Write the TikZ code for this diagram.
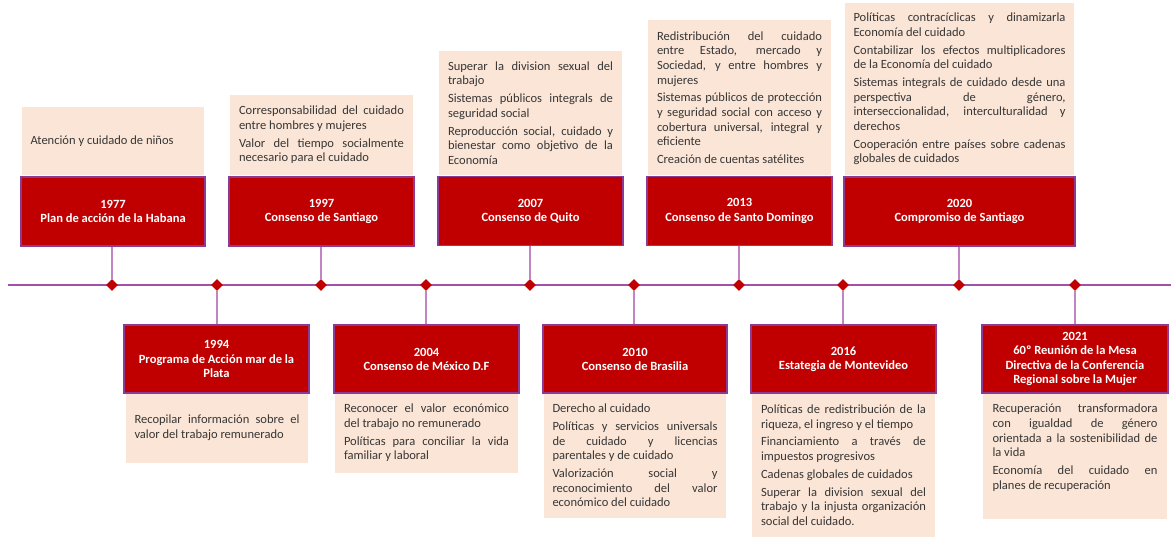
\documentclass[tikz,border=0pt]{standalone}
\usepackage{fontspec}
\setmainfont{Carlito}
\usetikzlibrary{shapes.geometric}
\definecolor{redfill}{HTML}{C00000}
\definecolor{redborder}{HTML}{8B3A96}
\definecolor{lightfill}{HTML}{FBE5D6}
\definecolor{tlcolor}{HTML}{A350A8}
\definecolor{conncolor}{HTML}{C384C6}
\definecolor{txtgray}{HTML}{363636}
\newcommand\bodyfnt{\fontsize{9.4}{10.95}\selectfont\tolerance=10000\hyphenpenalty=10000\exhyphenpenalty=10000}
\newcommand\titlefnt{\fontsize{9.4}{10.6}\selectfont\bfseries}
\newcommand\itemgap{\par\vspace{2.4pt}}
\tikzset{
  lightbox/.style={fill=lightfill, draw=none, inner sep=0pt},
  redbox/.style={fill=redfill, draw=redborder, line width=0.9pt, text=white, font=\titlefnt, align=center, inner sep=0pt, minimum height=51.75pt},
  bodytext/.style={font=\bodyfnt, text=txtgray, align=justify, text width=123.75pt, inner sep=0pt},
  timeline/.style={draw=tlcolor, line width=2.2pt},
  conn/.style={draw=conncolor, line width=1.1pt},
  dmd/.style={shape=diamond, fill=redfill, draw=none, inner sep=0pt, minimum width=9pt, minimum height=9pt}
}
\begin{document}
\begin{tikzpicture}[x=0.75pt, y=-0.75pt]
\useasboundingbox (0,0) rectangle (1171,537);
% ---------- top light boxes ----------
\node[lightbox, minimum width=136.5pt, minimum height=51pt] (l1977) at (113,141) {};
\node[lightbox, minimum width=137.25pt, minimum height=60pt] (l1997) at (321.5,135) {};
\node[lightbox, minimum width=137.25pt, minimum height=93pt] (l2007) at (530.5,113) {};
\node[lightbox, minimum width=137.25pt, minimum height=116.25pt] (l2013) at (739.5,97.5) {};
\node[lightbox, minimum width=171.75pt, minimum height=129pt] (l2020) at (959.5,89) {};
% ---------- bottom light boxes ----------
\node[lightbox, minimum width=136.5pt, minimum height=52.5pt] (l1994) at (217,428) {};
\node[lightbox, minimum width=137.25pt, minimum height=60pt] (l2004) at (426.5,433) {};
\node[lightbox, minimum width=136.5pt, minimum height=93.75pt] (l2010) at (635,455.5) {};
\node[lightbox, minimum width=137.25pt, minimum height=108pt] (l2016) at (843.5,465) {};
\node[lightbox, minimum width=138pt, minimum height=94.5pt] (l2021) at (1075,456) {};
% ---------- top texts ----------
\node[bodytext] (t1977) at (l1977.center) {Atención y cuidado de niños};
\node[bodytext] (t1997) at (l1997.center) {Corresponsabilidad del cuidado\linebreak entre hombres y mujeres\itemgap Valor del tiempo socialmente\linebreak necesario para el cuidado};
\node[bodytext] (t2007) at (l2007.center) {Superar la division sexual del\linebreak trabajo\itemgap Sistemas públicos integrals de\linebreak seguridad social\itemgap Reproducción social, cuidado y\linebreak bienestar como objetivo de la\linebreak Economía};
\node[bodytext] (t2013) at (l2013.center) {Redistribución del cuidado\linebreak entre Estado, mercado y\linebreak Sociedad, y entre hombres y\linebreak mujeres\itemgap Sistemas públicos de protección\linebreak y seguridad social con acceso y\linebreak cobertura universal, integral y\linebreak eficiente\itemgap Creación de cuentas satélites};
\node[bodytext, text width=159pt] (t2020) at (l2020.center) {Políticas contracíclicas y dinamizarla\linebreak Economía del cuidado\itemgap Contabilizar los efectos multiplicadores\linebreak de la Economía del cuidado\itemgap Sistemas integrals de cuidado desde una\linebreak perspectiva de género,\linebreak interseccionalidad, interculturalidad y\linebreak derechos\itemgap Cooperación entre países sobre cadenas\linebreak globales de cuidados};
% ---------- bottom texts ----------
\node[bodytext] (t1994) at (l1994.center) {Recopilar información sobre el\linebreak valor del trabajo remunerado};
\node[bodytext] (t2004) at (l2004.center) {Reconocer el valor económico\linebreak del trabajo no remunerado\itemgap Políticas para conciliar la vida\linebreak familiar y laboral};
\node[bodytext] (t2010) at (l2010.center) {Derecho al cuidado\itemgap Políticas y servicios universals\linebreak de cuidado y licencias\linebreak parentales y de cuidado\itemgap Valorización social y\linebreak reconocimiento del valor\linebreak económico del cuidado};
\node[bodytext] (t2016) at (l2016.center) {Políticas de redistribución de la\linebreak riqueza, el ingreso y el tiempo\itemgap Financiamiento a través de\linebreak impuestos progresivos\itemgap Cadenas globales de cuidados\itemgap Superar la division sexual del\linebreak trabajo y la injusta organización\linebreak social del cuidado.};
\node[bodytext, anchor=north] (t2021) at (1075,404) {Recuperación transformadora\linebreak con igualdad de género\linebreak orientada a la sostenibilidad de\linebreak la vida\itemgap Economía del cuidado en\linebreak planes de recuperación};
% ---------- red boxes ----------
\node[redbox, minimum width=138pt] (r1977) at (113,211.5) {1977\\Plan de acción de la Habana};
\node[redbox, minimum width=138.75pt] (r1997) at (321.5,211.5) {1997\\Consenso de Santiago};
\node[redbox, minimum width=138.75pt] (r2007) at (530.5,211) {2007\\Consenso de Quito};
\node[redbox, minimum width=138.75pt] (r2013) at (739.5,211) {2013\\Consenso de Santo Domingo};
\node[redbox, minimum width=173.25pt] (r2020) at (959.5,211.5) {2020\\Compromiso de Santiago};
\node[redbox, minimum width=138.75pt, minimum height=51pt] (r1994) at (216.5,359) {1994\\Programa de Acción mar de la\\Plata};
\node[redbox, minimum width=138.75pt, minimum height=51pt] (r2004) at (426.5,359) {2004\\Consenso de México D.F};
\node[redbox, minimum width=138pt, minimum height=51pt] (r2010) at (635,359) {2010\\Consenso de Brasilia};
\node[redbox, minimum width=138.75pt, minimum height=51pt] (r2016) at (843.5,359) {2016\\Estategia de Montevideo};
\node[redbox, minimum width=139.5pt, minimum height=51pt] (r2021) at (1075,359) {2021\\60º Reunión de la Mesa\\Directiva de la Conferencia\\Regional sobre la Mujer};
% ---------- timeline ----------
\coordinate (tlstart) at (8,285);
\coordinate (tlend) at (1171,285);
\draw[timeline] (tlstart) -- (tlend);
\node[dmd] (d1) at (112,285) {};
\node[dmd] (d2) at (217,285) {};
\node[dmd] (d3) at (321,285) {};
\node[dmd] (d4) at (426,285) {};
\node[dmd] (d5) at (530,285) {};
\node[dmd] (d6) at (634,285) {};
\node[dmd] (d7) at (739,285) {};
\node[dmd] (d8) at (843,285) {};
\node[dmd] (d9) at (959,285) {};
\node[dmd] (d10) at (1075,285) {};
% ---------- connectors ----------
\draw[conn] (r1977.south -| d1) -- (d1.north);
\draw[conn] (r1994.north -| d2) -- (d2.south);
\draw[conn] (r1997.south -| d3) -- (d3.north);
\draw[conn] (r2004.north -| d4) -- (d4.south);
\draw[conn] (r2007.south -| d5) -- (d5.north);
\draw[conn] (r2010.north -| d6) -- (d6.south);
\draw[conn] (r2013.south -| d7) -- (d7.north);
\draw[conn] (r2016.north -| d8) -- (d8.south);
\draw[conn] (r2020.south -| d9) -- (d9.north);
\draw[conn] (r2021.north -| d10) -- (d10.south);
\end{tikzpicture}
\end{document}
